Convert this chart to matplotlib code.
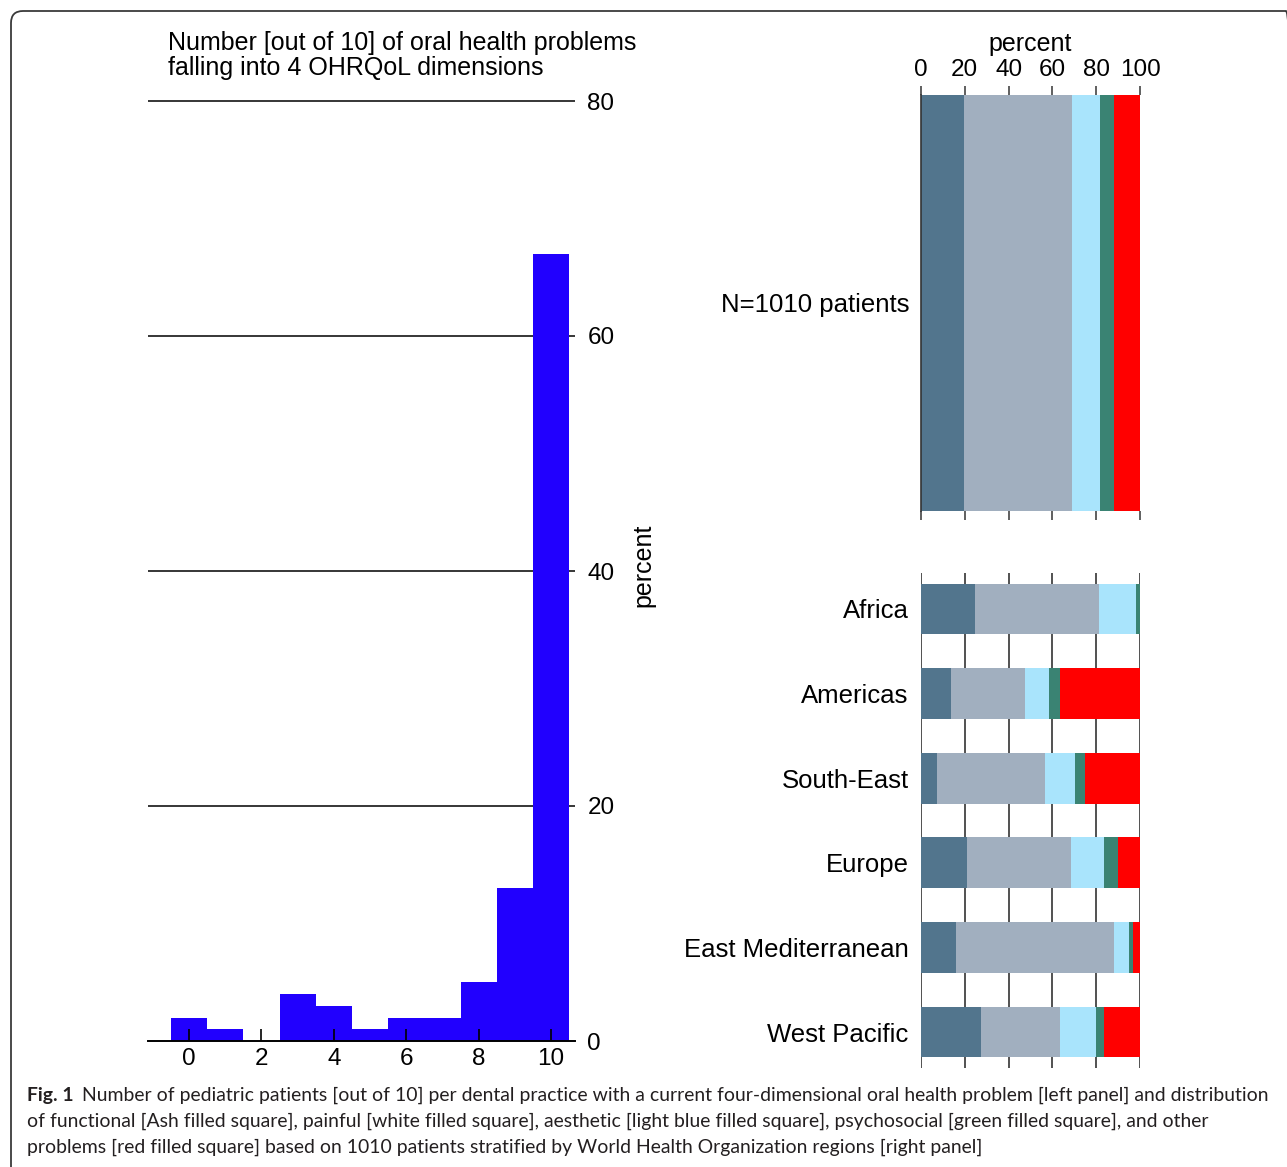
import matplotlib
matplotlib.use("Agg")
import matplotlib.pyplot as plt
from matplotlib.patches import FancyBboxPatch

plt.rcParams["font.family"] = ["Liberation Sans", "DejaVu Sans"]

# left panel: practices by number of children (out of 10) with a problem
n_problems = [0, 1, 2, 3, 4, 5, 6, 7, 8, 9, 10]
pct_practices = [2, 1, 0, 4, 3, 1, 2, 2, 5, 13, 67]

# right panel: share of each problem type (percent)
dimensions = ["functional", "painful", "aesthetic", "psychosocial", "other"]
dim_colors = ["#52758d", "#a1afbf", "#a9e4fc", "#3a8373", "#ff0000"]
overall_label = "N=1010 patients"
overall = [19.7, 49.3, 12.8, 6.2, 12.0]

regions = ["Africa", "Americas", "South-East", "Europe",
           "East Mediterranean", "West Pacific"]
functional = [24.7, 13.8, 7.2, 20.8, 15.8, 27.4]
painful = [56.7, 33.6, 49.4, 47.5, 72.3, 36.0]
aesthetic = [16.6, 11.0, 13.5, 15.1, 6.8, 16.5]
psychosocial = [2.0, 4.9, 5.0, 6.5, 2.1, 3.8]
other = [0.0, 36.7, 24.9, 10.1, 3.0, 16.3]
by_region = [functional, painful, aesthetic, psychosocial, other]

W, H = 1287, 1167
fig = plt.figure(figsize=(W / 100, H / 100), dpi=100)


def box(x0, y0, x1, y1):
    # pixel box (top-left origin) -> figure fraction rect
    return [x0 / W, 1 - y1 / H, (x1 - x0) / W, (y1 - y0) / H]


# ---------------- left: histogram ----------------
ax = fig.add_axes(box(148, 89.25, 575, 1041))
ax.bar(n_problems, pct_practices, width=1.0, color="#2100fe", zorder=1)
ax.set_xlim(-1.133, 10.663)
ax.set_ylim(0, 81)
yt = [0, 20, 40, 60, 80]
ax.hlines(yt[1:], -1.133, 10.663, color="black", lw=1.1, zorder=0.5)
for s in ["top", "left", "right"]:
    ax.spines[s].set_visible(False)
ax.spines["bottom"].set_linewidth(1.4)
ax.set_xticks(range(0, 11, 2))
ax.tick_params(axis="x", direction="in", length=9, width=1.2, labelsize=17.5, pad=5)
ax.yaxis.tick_right()
ax.set_yticks(yt)
ax.tick_params(axis="y", length=0, labelsize=17.5, pad=9)
ax.yaxis.set_label_position("right")
ax.set_ylabel("percent", fontsize=18, labelpad=12)
fig.text(168 / W, 1 - 31 / H,
         "Number [out of 10] of oral health problems\nfalling into 4 OHRQoL dimensions",
         fontsize=18, va="top", ha="left", linespacing=1.05)

# ---------------- right top: all patients ----------------
axt = fig.add_axes(box(921, 95, 1140, 511))
left = 0
for val, col in zip(overall, dim_colors):
    axt.barh([0], [val], left=left, height=1.0, color=col)
    left += val
axt.set_xlim(0, 100)
axt.set_ylim(-0.5, 0.5)
for s in ["top", "right", "bottom"]:
    axt.spines[s].set_visible(False)
axt.spines["left"].set_linewidth(1.2)
axt.spines["left"].set_color("#333333")
axt.set_xticks(range(0, 101, 20))
axt.tick_params(axis="x", top=True, bottom=True, labeltop=True, labelbottom=False,
                direction="out", length=6.8, width=1.2, color="#444444",
                labelsize=17.5, pad=3)
axt.xaxis.set_label_position("top")
axt.set_xlabel("percent", fontsize=18, labelpad=6)
axt.set_yticks([0])
axt.set_yticklabels([overall_label])
axt.tick_params(axis="y", length=0, labelsize=18.5, pad=8)

# ---------------- right bottom: WHO regions ----------------
axb = fig.add_axes(box(921, 573, 1140, 1068))
ypos = list(range(len(regions)))
lefts = [0.0] * len(regions)
for vals, col in zip(by_region, dim_colors):
    axb.barh(ypos, vals, left=lefts, height=0.6, color=col)
    lefts = [a + b for a, b in zip(lefts, vals)]
axb.set_xlim(0, 100)
axb.set_ylim(5.425, -0.425)
axb.set_axisbelow(True)
axb.set_xticks(range(0, 101, 20))
axb.xaxis.grid(True, color="#333333", lw=1.2)
for s in axb.spines.values():
    s.set_visible(False)
axb.tick_params(axis="x", length=0, labelbottom=False)
axb.set_yticks(ypos)
axb.set_yticklabels(regions)
axb.tick_params(axis="y", length=0, labelsize=18.5, pad=9)

# ---------------- frame and caption ----------------
frame = FancyBboxPatch((0.11, -1.0), W / 100, H / 100 - 0.11 + 1.0,
                       boxstyle="round,pad=0,rounding_size=0.12",
                       transform=fig.dpi_scale_trans, fill=False,
                       ec="#3a3a3a", lw=1.3, clip_on=False)
fig.patches.append(frame)

cap_font = ["Lato", "DejaVu Sans"]
cap_color = "#231f20"
lines = [
    "Number of pediatric patients [out of 10] per dental practice with a current four-dimensional oral health problem [left panel] and distribution",
    "of functional [Ash filled square], painful [white filled square], aesthetic [light blue filled square], psychosocial [green filled square], and other",
    "problems [red filled square] based on 1010 patients stratified by World Health Organization regions [right panel]",
]
baselines = [1101, 1127, 1153]

# size the caption so the first line runs to the right margin
renderer = fig.canvas.get_renderer()
size = 13.0
tag = fig.text(27 / W, 1 - baselines[0] / H, "Fig. 1", family=cap_font,
               fontsize=size, fontweight="bold", va="baseline", color=cap_color)
first = fig.text(0, 1 - baselines[0] / H, lines[0], family=cap_font,
                 fontsize=size, va="baseline", color=cap_color)
for _ in range(3):
    tag.set_fontsize(size)
    first.set_fontsize(size)
    tag_end = tag.get_window_extent(renderer).x1
    first.set_x((tag_end + 8) / W)
    right = first.get_window_extent(renderer).x1
    size *= (1273 - 27) / (right - 27)
tag.set_fontsize(size)
first.set_fontsize(size)
first.set_x((tag.get_window_extent(renderer).x1 + 8) / W)
for txt, yb in zip(lines[1:], baselines[1:]):
    fig.text(27 / W, 1 - yb / H, txt, family=cap_font,
             fontsize=size, va="baseline", color=cap_color)

fig.savefig("out.png", dpi=100)
